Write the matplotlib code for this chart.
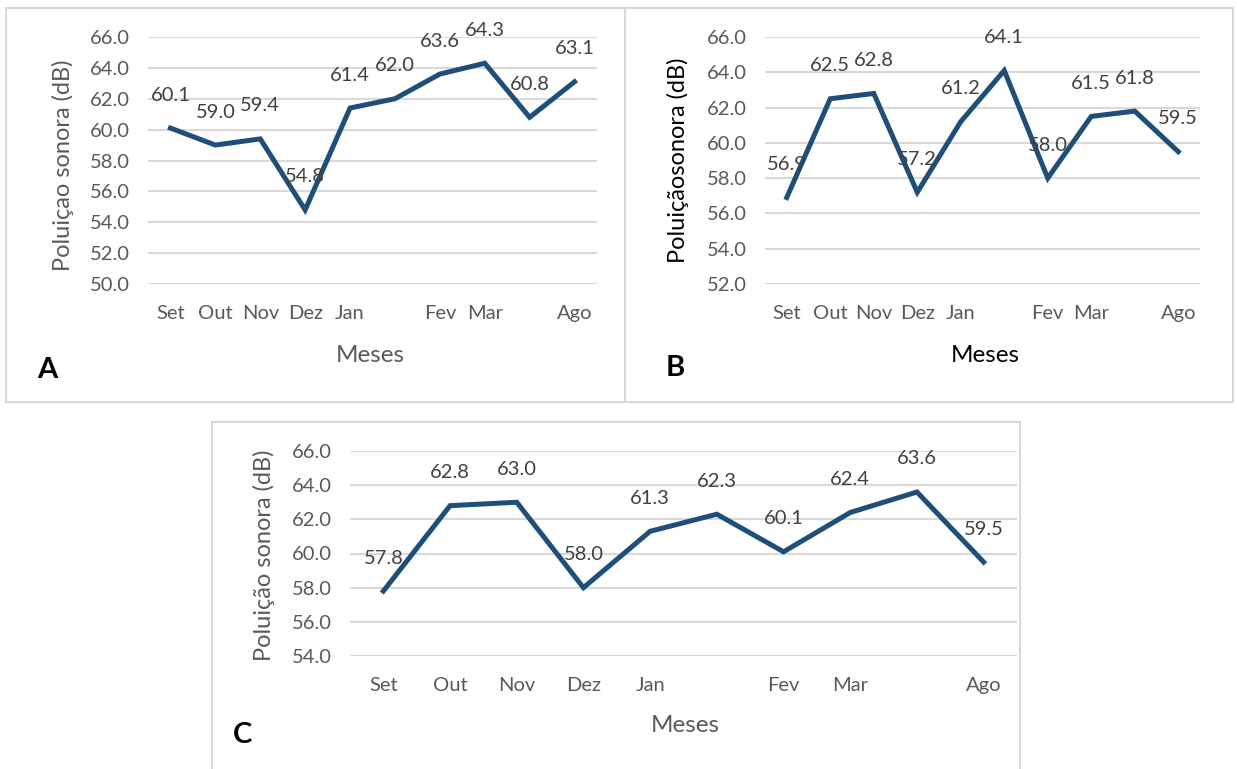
import matplotlib
matplotlib.use('Agg')
import matplotlib.pyplot as plt
from matplotlib.patches import Rectangle

plt.rcParams['font.family'] = ['Lato', 'DejaVu Sans']

meses = ['Set', 'Out', 'Nov', 'Dez', 'Jan', '', 'Fev', 'Mar', '', 'Ago']

ruido_a = [60.1, 59.0, 59.4, 54.8, 61.4, 62.0, 63.6, 64.3, 60.8, 63.1]
ruido_b = [56.9, 62.5, 62.8, 57.2, 61.2, 64.1, 58.0, 61.5, 61.8, 59.5]
ruido_c = [57.8, 62.8, 63.0, 58.0, 61.3, 62.3, 60.1, 62.4, 63.6, 59.5]

ylim_a = (50, 66)
ylim_b = (52, 66)
ylim_c = (54, 66)

W, H = 1237, 769
LINE = '#1F4E79'
GRAY = '#595959'
GRID = '#D9D9D9'


def px_box(x0, y0, x1, y1):
    # pixel box (top-left origin) -> figure fraction [l, b, w, h]
    return [x0 / W, 1 - y1 / H, (x1 - x0) / W, (y1 - y0) / H]


def frame(fig, x0, y0, x1, y1):
    l, b, w, h = px_box(x0, y0, x1, y1)
    fig.patches.append(Rectangle((l, b), w, h, transform=fig.transFigure,
                                 fill=False, edgecolor=GRID, linewidth=1.5))


def panel(fig, rect, values, ylim, ylabel, ylabel_pos, ylabel_color,
          xlabel_pos, xlabel_color, letter, letter_pos):
    ax = fig.add_axes(px_box(*rect))
    x = list(range(len(values)))
    ax.plot(x, values, color=LINE, linewidth=3.6, solid_joinstyle='miter',
            zorder=3)
    for xi, v in zip(x, values):
        ax.annotate(f'{v:.1f}', (xi, v), xytext=(0, 33),
                    textcoords='offset pixels', ha='center', va='center',
                    fontsize=14.5, color='#404040', zorder=4)
    ax.set_xlim(-0.5, len(values) - 0.5)
    ax.set_ylim(*ylim)
    ax.set_yticks(range(ylim[0], ylim[1] + 1, 2))
    ax.set_yticklabels([f'{t:.1f}' for t in range(ylim[0], ylim[1] + 1, 2)])
    ax.set_xticks(x)
    ax.set_xticklabels(meses)
    ax.grid(axis='y', color=GRID, linewidth=1.5)
    ax.set_axisbelow(True)
    for s in ax.spines.values():
        s.set_visible(False)
    ax.tick_params(axis='both', length=0, labelsize=14.5, labelcolor=GRAY)
    ax.tick_params(axis='x', pad=15)
    ax.tick_params(axis='y', pad=13)

    fig.text(ylabel_pos[0] / W, 1 - ylabel_pos[1] / H, ylabel, rotation=90,
             ha='center', va='center', fontsize=17, color=ylabel_color)
    fig.text(xlabel_pos[0] / W, 1 - xlabel_pos[1] / H, 'Meses',
             ha='center', va='center', fontsize=17.5, color=xlabel_color)
    fig.text(letter_pos[0] / W, 1 - letter_pos[1] / H, letter,
             ha='center', va='center', fontsize=21, fontweight='bold',
             color='black')
    return ax


fig = plt.figure(figsize=(W / 100, H / 100), dpi=100)

frame(fig, 6, 8, 625, 402)
frame(fig, 625, 8, 1233, 402)
frame(fig, 212, 422, 1020, 772)

panel(fig, (148, 37, 597, 284), ruido_a, ylim_a, 'Poluiçao sonora (dB)',
      (63, 165), GRAY, (370, 355), GRAY, 'A', (47, 370))
panel(fig, (765, 37, 1200, 284), ruido_b, ylim_b, 'Poluiçãosonora (dB)',
      (678, 160), 'black', (985, 355), 'black', 'B', (675, 368))
panel(fig, (350, 451, 1017, 656), ruido_c, ylim_c, 'Poluição sonora (dB)',
      (264, 555), GRAY, (685, 725), GRAY, 'C', (243, 735))

fig.savefig('out.png', dpi=100)
